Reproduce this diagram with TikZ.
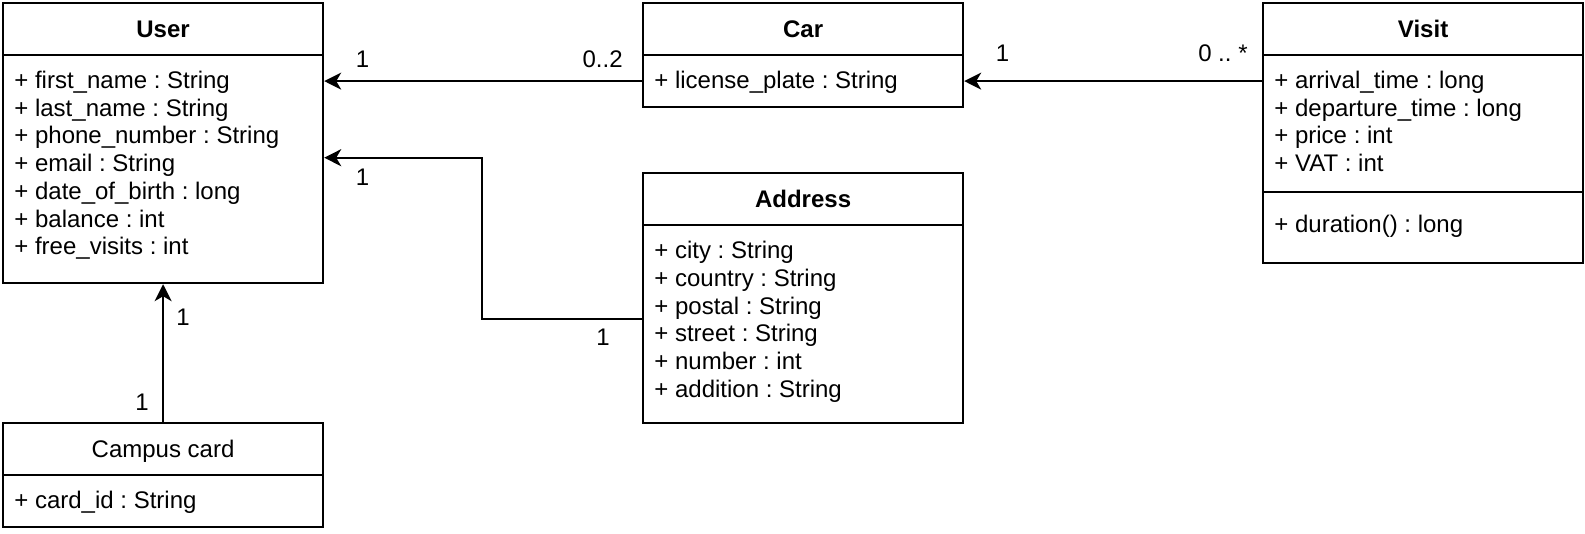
\documentclass[tikz,border=0pt]{standalone}
\usepackage{fontspec}
\setmainfont{Liberation Sans}
\usetikzlibrary{arrows.meta}
\frenchspacing
\begin{document}
\frenchspacing
\begin{tikzpicture}[x=0.5pt,y=-0.5pt,
  txt/.style={font=\fontsize{12pt}{14pt}\selectfont, inner sep=0pt},
  box/.style={draw, line width=1.1pt, minimum width=160pt, inner sep=0pt,
    anchor=north west, font=\fontsize{12pt}{14pt}\selectfont,
    text height=8.6pt, text depth=0pt},
  hdr/.style={box, minimum height=26pt, font=\fontsize{12pt}{14pt}\selectfont\bfseries},
  conn/.style={line width=1.1pt, -{Stealth[length=8.5pt,width=8.5pt,inset=2.5pt]}},
  attr/.style={txt, anchor=base west},
  mult/.style={txt, anchor=base},
  multr/.style={txt, anchor=base east}]
\useasboundingbox (0,0) rectangle (1585,534);

% User
\node[hdr] (userh) at (2,2) {User};
\node[box, minimum height=114pt] (userb) at (2,54) {};
\foreach \t [count=\i] in {{+ first\_name : String},{+ last\_name : String},{+ phone\_number : String},{+ email : String},{+ date\_of\_birth : long},{+ balance : int},{+ free\_visits : int}}
  \node[attr] (ua\i) at (14,{88.6+27.7*(\i-1)}) {\t};

% Car
\node[hdr] (carh) at (642,2) {Car};
\node[box, minimum height=26pt] (carb) at (642,54) {};
\node[attr] (ca1) at (654,88.6) {+ license\_plate : String};

% Visit
\node[hdr] (vish) at (1262,2) {Visit};
\node[box, minimum height=68.5pt] (visa) at (1262,54) {};
\node[box, minimum height=35.5pt] (viso) at (1262,191) {};
\foreach \t [count=\i] in {{+ arrival\_time : long},{+ departure\_time : long},{+ price : int},{+ VAT : int}}
  \node[attr] (va\i) at (1274,{88.6+27.7*(\i-1)}) {\t};
\node[attr] (vo1) at (1274,232.5) {+ duration() : long};

% Address
\node[hdr] (addh) at (642,172) {Address};
\node[box, minimum height=99pt] (addb) at (642,224) {};
\foreach \t [count=\i] in {{+ city : String},{+ country : String},{+ postal : String},{+ street : String},{+ number : int},{+ addition : String}}
  \node[attr] (aa\i) at (654,{258.5+27.8*(\i-1)}) {\t};

% Campus card
\node[box, minimum height=26pt] (camph) at (2,422) {Campus card};
\node[box, minimum height=26pt] (campb) at (2,474) {};
\node[attr] (cc1) at (14,508.5) {+ card\_id : String};

% Connectors
\draw[conn] (carb.west) -- (carb.west -| userb.east);
\draw[conn] (carb.east -| visa.west) -- (carb.east);
\coordinate (bend) at (481.7,157.7);
\draw[conn] ([yshift=2.65pt]addb.west) -| (bend) -- (bend -| userb.east);
\draw[conn] (camph.north) -- (userb.south);

% Multiplicities
\node[mult] (m1) at (362.5,67.7) {1};
\node[multr] (m2) at (623,67.7) {0..2};
\node[mult] (m3) at (1002.5,61.7) {1};
\node[multr] (m4) at (1248,61.7) {0 .. *};
\node[mult] (m5) at (362.5,185.7) {1};
\node[mult] (m6) at (603,345.7) {1};
\node[mult] (m7) at (183,325.7) {1};
\node[mult] (m8) at (142,410) {1};
\end{tikzpicture}
\end{document}
